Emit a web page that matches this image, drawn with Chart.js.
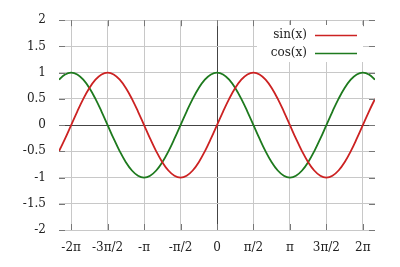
<!DOCTYPE html>
<html><head><meta charset="utf-8">
<script src="https://cdn.jsdelivr.net/npm/chart.js@4.4.1/dist/chart.umd.min.js"></script>
<style>html,body{margin:0;padding:0;background:#fff}#wrap{width:400px;height:267px}</style>
</head><body><div id="wrap"><canvas id="c" width="400" height="267"></canvas></div>
<script>
// sample positions (x = k*pi/12, k = -26..26)
const xValues = [-6.807,-6.545,-6.283,-6.021,-5.760,-5.498,-5.236,-4.974,-4.712,-4.451,-4.189,-3.927,-3.665,-3.403,-3.142,-2.880,-2.618,-2.356,-2.094,-1.833,-1.571,-1.309,-1.047,-0.785,-0.524,-0.262,0,
0.262,0.524,0.785,1.047,1.309,1.571,1.833,2.094,2.356,2.618,2.880,3.142,3.403,3.665,3.927,4.189,4.451,4.712,4.974,5.236,5.498,5.760,6.021,6.283,6.545,6.807];
const sinValues = [-0.5,-0.259,0,0.259,0.5,0.707,0.866,0.966,1,0.966,0.866,0.707,0.5,0.259,0,-0.259,-0.5,-0.707,-0.866,-0.966,-1,-0.966,-0.866,-0.707,-0.5,-0.259,0,
0.259,0.5,0.707,0.866,0.966,1,0.966,0.866,0.707,0.5,0.259,0,-0.259,-0.5,-0.707,-0.866,-0.966,-1,-0.966,-0.866,-0.707,-0.5,-0.259,0,0.259,0.5];
const cosValues = [0.866,0.966,1,0.966,0.866,0.707,0.5,0.259,0,-0.259,-0.5,-0.707,-0.866,-0.966,-1,-0.966,-0.866,-0.707,-0.5,-0.259,0,0.259,0.5,0.707,0.866,0.966,1,
0.966,0.866,0.707,0.5,0.259,0,-0.259,-0.5,-0.707,-0.866,-0.966,-1,-0.966,-0.866,-0.707,-0.5,-0.259,0,0.259,0.5,0.707,0.866,0.966,1,0.966,0.866];
const xTickLabels = ['-2π','-3π/2','-π','-π/2','0','π/2','π','3π/2','2π'];
const xTickValues = [-6.2832,-4.7124,-3.1416,-1.5708,0,1.5708,3.1416,4.7124,6.2832];
const yTickLabels = ['-2','-1.5','-1','-0.5','0','0.5','1','1.5','2'];
const yTickValues = [-2,-1.5,-1,-0.5,0,0.5,1,1.5,2];
const xMin = -6.807, xMax = 6.807;
const seriesLabels = ['sin(x)','cos(x)'];

const FONT = {family:'"DejaVu Serif", serif', size:12};
const gridColor = c => (c.tick && Math.abs(c.tick.value) < 1e-9) ? '#444' : '#c8c8c8';

const borderTicks = {
  id:'borderTicks',
  afterDatasetsDraw(chart){
    const {ctx, chartArea:a, scales:{x,y}} = chart;
    ctx.save(); ctx.strokeStyle='#777'; ctx.lineWidth=1; const L=6;
    ctx.beginPath();
    y.ticks.forEach(t=>{const p=Math.round(y.getPixelForValue(t.value))+0.5;
      ctx.moveTo(a.left,p);ctx.lineTo(a.left+L,p);ctx.moveTo(a.right,p);ctx.lineTo(a.right-L,p);});
    x.ticks.forEach(t=>{const p=Math.round(x.getPixelForValue(t.value))+0.5;
      ctx.moveTo(p,a.bottom);ctx.lineTo(p,a.bottom-L);ctx.moveTo(p,a.top);ctx.lineTo(p,a.top+L);});
    ctx.stroke(); ctx.restore();
  }
};
const keyBox = {
  id:'keyBox',
  afterDatasetsDraw(chart){
    const ctx = chart.ctx; ctx.save();
    ctx.fillStyle='#fff'; ctx.fillRect(257,25,106,37);
    ctx.font = '12px "DejaVu Serif", serif'; ctx.textAlign='right'; ctx.textBaseline='middle'; ctx.fillStyle='#222';
    chart.data.datasets.forEach((d,i)=>{
      const yy = 35 + i*18;
      ctx.fillText(d.label, 307, yy);
      ctx.strokeStyle=d.borderColor; ctx.lineWidth=1.5;
      ctx.beginPath(); ctx.moveTo(315,yy+0.5); ctx.lineTo(357,yy+0.5); ctx.stroke();
    });
    ctx.restore();
  }
};

new Chart(document.getElementById('c'), {
  type:'line',
  data:{datasets:[
    {label:seriesLabels[0], data:xValues.map((v,i)=>({x:v,y:sinValues[i]})), borderColor:'#cc2222', borderWidth:1.8, pointRadius:0, tension:0.4, fill:false},
    {label:seriesLabels[1], data:xValues.map((v,i)=>({x:v,y:cosValues[i]})), borderColor:'#1e7a1e', borderWidth:1.8, pointRadius:0, tension:0.4, fill:false}
  ]},
  options:{
    responsive:false, animation:false, devicePixelRatio:1,
    layout:{padding:{top:16,right:25,left:0,bottom:0}},
    plugins:{legend:{display:false}, tooltip:{enabled:false}},
    scales:{
      x:{type:'linear', min:xMin, max:xMax,
        afterBuildTicks:s=>{s.ticks = xTickValues.map(v=>({value:v}));},
        afterFit:s=>{s.height=37;},
        ticks:{font:FONT, color:'#222', padding:11, maxRotation:0, autoSkip:false,
          callback:(v)=>{const i=xTickValues.findIndex(t=>Math.abs(t-v)<1e-3);return i>=0?xTickLabels[i]:'';}},
        grid:{color:gridColor, drawTicks:false, lineWidth:1}, border:{display:false}},
      y:{min:-2, max:2,
        afterBuildTicks:s=>{s.ticks = yTickValues.map(v=>({value:v}));},
        afterFit:s=>{s.width=59;},
        ticks:{font:FONT, color:'#222', padding:13, autoSkip:false,
          callback:(v)=>{const i=yTickValues.findIndex(t=>Math.abs(t-v)<1e-6);return i>=0?yTickLabels[i]:'';}},
        grid:{color:gridColor, drawTicks:false, lineWidth:1}, border:{display:false}}
    }
  },
  plugins:[borderTicks, keyBox]
});
</script></body></html>
